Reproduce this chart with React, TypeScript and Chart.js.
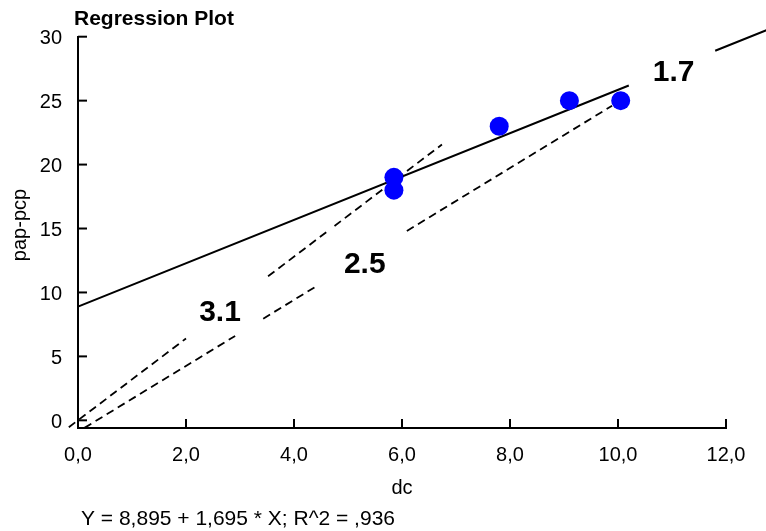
import React, { useEffect, useRef } from "react";
import { Chart, registerables } from "chart.js";

Chart.register(...registerables);

// Observations: dc (x) vs pap-pcp (y)
const dcValues = [5.85, 5.85, 7.8, 9.1, 10.05];
const papPcpValues = [19, 18, 23, 25, 25];

// Regression line Y = 8,895 + 1,695 * X (null = gap for the "1.7" label)
const fitX: (number | null)[] = [0, 10.2, null, 11.8, 12.75];
const fitY: (number | null)[] = [8.895, 26.18, null, 28.9, 30.51];

// Dashed reference line, slope label "3.1"
const steepX: (number | null)[] = [-0.17, 2.0, null, 3.52, 4.6, null, 4.75, 6.74];
const steepY: (number | null)[] = [-0.54, 6.4, null, 11.26, 14.72, null, 15.2, 21.57];

// Dashed reference line, slope label "2.5"
const midX: (number | null)[] = [0.12, 2.91, null, 3.43, 4.45, null, 6.09, 9.89];
const midY: (number | null)[] = [-0.59, 6.6, null, 7.95, 10.58, null, 14.81, 24.6];

// Slope labels (anchored at bottom-centre, data coordinates)
const slopeLabels = ["3.1", "2.5", "1.7"];
const slopeLabelX = [2.63, 5.31, 11.03];
const slopeLabelY = [7.79, 11.54, 26.54];

const xTicks = [0, 2, 4, 6, 8, 10, 12];
const yTicks = [0, 5, 10, 15, 20, 25, 30];

const chartTitle = "Regression Plot";
const xTitle = "dc";
const yTitle = "pap-pcp";
const equationText = "Y = 8,895 + 1,695 * X; R^2 = ,936";

const FONT = '"Liberation Sans", Arial, Helvetica, sans-serif';

function toPoints(xs: (number | null)[], ys: (number | null)[]) {
  return xs.map((x, i) =>
    x === null || ys[i] === null ? { x: NaN, y: NaN } : { x: x as number, y: ys[i] as number }
  );
}

const overlayPlugin = {
  id: "overlay",
  afterDraw(chart: any) {
    const { ctx, chartArea } = chart;
    const xs = chart.scales.x;
    const ys = chart.scales.y;
    ctx.save();
    // inward tick marks
    ctx.strokeStyle = "#000";
    ctx.lineWidth = 2;
    yTicks.forEach((v) => {
      const py = ys.getPixelForValue(v);
      ctx.beginPath();
      ctx.moveTo(chartArea.left, py);
      ctx.lineTo(chartArea.left + 9, py);
      ctx.stroke();
    });
    xTicks.forEach((v) => {
      const px = xs.getPixelForValue(v);
      ctx.beginPath();
      ctx.moveTo(px, chartArea.bottom);
      ctx.lineTo(px, chartArea.bottom - 9);
      ctx.stroke();
    });

    ctx.fillStyle = "#000";
    // slope labels
    ctx.font = `bold 30px ${FONT}`;
    ctx.textAlign = "center";
    ctx.textBaseline = "alphabetic";
    slopeLabels.forEach((t, i) => {
      ctx.fillText(t, xs.getPixelForValue(slopeLabelX[i]), ys.getPixelForValue(slopeLabelY[i]));
    });

    // title
    ctx.font = `bold 21px ${FONT}`;
    ctx.textAlign = "left";
    ctx.fillText(chartTitle, 74, 25);

    // x title
    ctx.font = `20px ${FONT}`;
    ctx.textAlign = "center";
    ctx.fillText(xTitle, (chartArea.left + chartArea.right) / 2, 494);

    // equation
    ctx.font = `21px ${FONT}`;
    ctx.textAlign = "left";
    ctx.fillText(equationText, 81, 525);

    // y title
    ctx.font = `20px ${FONT}`;
    ctx.translate(26, 225);
    ctx.rotate(-Math.PI / 2);
    ctx.textAlign = "center";
    ctx.fillText(yTitle, 0, 0);
    ctx.restore();
  },
};

export default function App() {
  const canvasRef = useRef<HTMLCanvasElement | null>(null);

  useEffect(() => {
    if (!canvasRef.current) return;
    const chart = new Chart(canvasRef.current, {
      type: "scatter",
      data: {
        datasets: [
          {
            label: "observed",
            data: dcValues.map((x, i) => ({ x, y: papPcpValues[i] })),
            backgroundColor: "#0000ff",
            borderColor: "#0000ff",
            pointRadius: 9.5,
            pointHoverRadius: 9.5,
            borderWidth: 0,
            showLine: false,
            clip: false as any,
          },
          {
            label: "fit",
            data: toPoints(fitX, fitY),
            borderColor: "#000",
            borderWidth: 2,
            pointRadius: 0,
            showLine: true,
            spanGaps: false,
            clip: false as any,
          },
          {
            label: "slope 3.1",
            data: toPoints(steepX, steepY),
            borderColor: "#000",
            borderWidth: 1.8,
            borderDash: [8, 5],
            pointRadius: 0,
            showLine: true,
            spanGaps: false,
            clip: false as any,
          },
          {
            label: "slope 2.5",
            data: toPoints(midX, midY),
            borderColor: "#000",
            borderWidth: 1.8,
            borderDash: [8, 5],
            pointRadius: 0,
            showLine: true,
            spanGaps: false,
            clip: false as any,
          },
        ],
      },
      options: {
        responsive: false,
        animation: false,
        devicePixelRatio: 1,
        layout: { padding: { top: 36.7, right: 40, left: 0, bottom: 0 } },
        plugins: {
          legend: { display: false },
          tooltip: { enabled: false },
          title: { display: false },
        },
        scales: {
          x: {
            type: "linear",
            min: 0,
            max: 12,
            afterFit: (s: any) => {
              s.height = 103;
            },
            afterBuildTicks: (s: any) => {
              s.ticks = xTicks.map((v) => ({ value: v }));
            },
            ticks: {
              color: "#000",
              font: { family: FONT, size: 20 },
              padding: 15,
              maxRotation: 0,
              callback: (v: any) => Number(v).toFixed(1).replace(".", ","),
            },
            grid: { display: true, drawOnChartArea: false, drawTicks: false },
            border: { display: true, color: "#000", width: 2 },
          },
          y: {
            type: "linear",
            min: -0.6,
            max: 30,
            afterFit: (s: any) => {
              s.width = 78;
            },
            afterBuildTicks: (s: any) => {
              s.ticks = yTicks.map((v) => ({ value: v }));
            },
            ticks: {
              color: "#000",
              font: { family: FONT, size: 20 },
              padding: 16,
              labelOffset: 2,
              callback: (v: any) => String(v),
            },
            grid: { display: true, drawOnChartArea: false, drawTicks: false },
            border: { display: true, color: "#000", width: 2 },
          },
        },
      },
      plugins: [overlayPlugin],
    });
    return () => chart.destroy();
  }, []);

  return (
    <div style={{ position: "absolute", left: 0, top: 0, width: 766, height: 531, background: "#fff" }}>
      <canvas ref={canvasRef} width={766} height={531} style={{ display: "block" }} />
    </div>
  );
}
